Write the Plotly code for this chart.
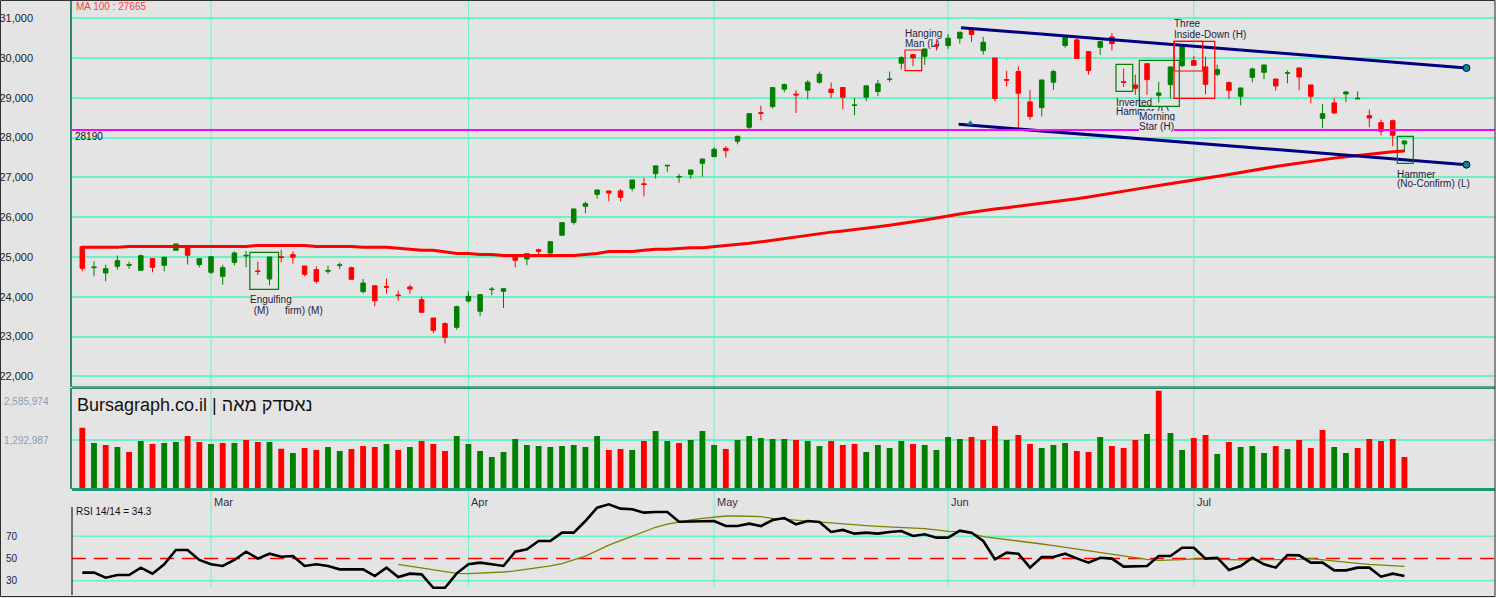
import plotly.graph_objects as go

# ---- data ----
opens = [25260, 24730, 24598, 24765, 24790, 24665, 24958, 24790, 25168, 25260,
         24807, 24615, 24514, 24866, 25025, 24650, 24447, 25005, 25059, 24774,
         24682, 24640, 24785, 24732, 24128, 24279, 24255, 24045, 24246, 23927,
         23466, 23324, 23232, 23894, 23634, 24180, 24137, 25034, 24950, 25184,
         25100, 25545, 25871, 26274, 26575, 26659, 26659, 26726, 26840, 27094,
         27290, 27010, 27078, 27354, 27522, 27732, 27908, 28260, 28625, 28780,
         29218, 29095, 29193, 29394, 29218, 29260, 28810, 29017, 29159, 29460,
         29871, 30088, 30046, 30330, 30315, 30499, 30742, 30188, 30004, 29460,
         29662, 28899, 28754, 29394, 30315, 30457, 30163, 30272, 30532, 29405,
         29324, 29860, 29064, 29332, 29810, 29936, 29777, 29592, 29383, 29039,
         29517, 29643, 29475, 29620, 29752, 29324, 28486, 28872, 29098, 28975,
         28553, 28377, 28427, 27841]
highs = [25285, 24891, 24807, 25034, 24883, 25059, 24960, 25008, 25330, 25265,
         24960, 25010, 24799, 25142, 25151, 24883, 25000, 25184, 25142, 24776,
         24765, 24782, 24858, 24757, 24447, 24280, 24455, 24154, 24304, 24003,
         23470, 23357, 23776, 24137, 24055, 24246, 24205, 25035, 25085, 25210,
         25390, 25865, 26210, 26391, 26685, 26660, 26710, 26940, 26986, 27295,
         27305, 27086, 27190, 27465, 27757, 27782, 28050, 28605, 28805, 29260,
         29360, 29193, 29444, 29662, 29386, 29260, 29000, 29305, 29453, 29662,
         30046, 30090, 30232, 30447, 30600, 30650, 30767, 30532, 30005, 29679,
         29788, 29201, 29450, 29712, 30533, 30490, 30165, 30415, 30632, 29735,
         29584, 29860, 29408, 29778, 30296, 30053, 30036, 29835, 29408, 29250,
         29760, 29828, 29476, 29693, 29753, 29325, 28846, 28997, 29173, 29165,
         28704, 28453, 28453, 27917]
lows = [24640, 24514, 24388, 24682, 24698, 24665, 24615, 24640, 25168, 24807,
        24740, 24573, 24304, 24790, 24740, 24547, 24288, 24866, 24832, 24514,
        24330, 24573, 24698, 24435, 24086, 23760, 24078, 23902, 24078, 23605,
        23089, 22830, 23173, 23852, 23508, 24036, 23718, 24740, 24790, 25017,
        24992, 25545, 25813, 26098, 26467, 26400, 26400, 26651, 26525, 26970,
        27143, 26868, 26962, 27019, 27520, 27497, 27832, 28201, 28436, 28730,
        29142, 28620, 28966, 29352, 28992, 28714, 28564, 28916, 29042, 29402,
        29712, 29795, 29830, 30188, 30230, 30364, 30406, 30088, 28916, 29285,
        28235, 28452, 28530, 29201, 30263, 29985, 29587, 30079, 30188, 29274,
        29073, 29073, 28880, 28989, 29768, 29818, 29089, 29542, 28964, 28813,
        29391, 29467, 29182, 29366, 29190, 28863, 28235, 28610, 28897, 28964,
        28260, 28059, 27782, 27640]
closes = [24715, 24745, 24707, 24908, 24805, 25034, 24740, 24992, 25327, 25042,
          24958, 25008, 24732, 25100, 25040, 24635, 25000, 24990, 24995, 24564,
          24388, 24660, 24800, 24439, 24346, 23902, 24240, 24030, 24195, 23609,
          23156, 22980, 23751, 24011, 24053, 24190, 24204, 24916, 25084, 25142,
          25385, 25863, 26207, 26341, 26684, 26609, 26500, 26936, 26820, 27290,
          27303, 27020, 27187, 27463, 27707, 27673, 28034, 28604, 28612, 29258,
          29335, 29075, 29394, 29595, 29134, 29017, 28820, 29302, 29352, 29470,
          30013, 30004, 30230, 30320, 30499, 30650, 30591, 30398, 28983, 29445,
          29117, 28530, 29450, 29662, 30532, 29988, 29687, 30414, 30364, 29390,
          29240, 29458, 29123, 29777, 30296, 29818, 29341, 29710, 29190, 29249,
          29726, 29827, 29299, 29630, 29525, 29039, 28603, 28620, 29148, 28989,
          28494, 28159, 28059, 27916]

# volume in millions
volume = [1.616, 1.214, 1.162, 1.110, 0.978, 1.267, 1.188, 1.214, 1.240, 1.398,
          1.240, 1.188, 1.214, 1.214, 1.293, 1.240, 1.240, 1.066, 0.952, 1.083,
          1.031, 1.110, 1.005, 1.057, 1.136, 1.110, 1.188, 1.031, 1.110, 1.267,
          1.188, 1.005, 1.398, 1.188, 1.005, 0.847, 0.978, 1.319, 1.162, 1.136,
          1.110, 1.136, 1.162, 1.110, 1.398, 1.031, 1.057, 1.031, 1.267, 1.529,
          1.267, 1.214, 1.293, 1.529, 1.162, 1.057, 1.293, 1.398, 1.345, 1.319,
          1.319, 1.293, 1.267, 1.136, 1.267, 1.162, 1.188, 0.978, 1.162, 1.083,
          1.267, 1.188, 1.162, 1.031, 1.372, 1.319, 1.372, 1.293, 1.660, 1.293,
          1.424, 1.188, 1.083, 1.162, 1.214, 1.005, 0.978, 1.372, 1.136, 1.083,
          1.293, 1.450, 2.586, 1.476, 1.031, 1.345, 1.424, 0.926, 1.240, 1.110,
          1.136, 0.952, 1.136, 1.057, 1.293, 1.083, 1.555, 1.110, 0.952, 1.083,
          1.319, 1.267, 1.319, 0.847]

ma100 = [25245, 25245, 25245, 25245, 25265, 25265, 25265, 25265, 25265, 25265,
         25265, 25265, 25265, 25265, 25265, 25290, 25290, 25290, 25290, 25290,
         25265, 25265, 25265, 25265, 25245, 25245, 25245, 25220, 25195, 25170,
         25170, 25125, 25085, 25085, 25060, 25060, 25035, 25035, 25035, 25035,
         25035, 25035, 25035, 25060, 25085, 25135, 25135, 25135, 25170, 25195,
         25195, 25220, 25235, 25235, 25260, 25285, 25310, 25345, 25380, 25420,
         25460, 25505, 25550, 25595, 25625, 25655, 25685, 25720, 25760, 25800,
         25840, 25885, 25930, 25980, 26035, 26080, 26125, 26170, 26205, 26240,
         26275, 26310, 26345, 26385, 26425, 26465, 26510, 26560, 26610, 26665,
         26710, 26750, 26795, 26840, 26880, 26935, 26980, 27025, 27075, 27125,
         27180, 27230, 27275, 27320, 27365, 27405, 27445, 27485, 27520, 27555,
         27590, 27620, 27645, 27665]

rsi = [37.3, 37.3, 32.8, 35.2, 35.2, 41.8, 36.4, 44.8, 57.6, 57.6,
       48.7, 44.8, 43.3, 48.7, 56.1, 49.9, 54.3, 51.6, 52.2, 43.3,
       44.8, 43.3, 40.3, 40.3, 40.3, 34.3, 41.8, 33.4, 36.4, 35.8,
       23.8, 23.8, 36.7, 44.8, 46.3, 44.8, 43.3, 56.1, 58.2, 65.7,
       65.7, 73.2, 73.2, 83.6, 95.6, 98.6, 94.7, 94.1, 91.1, 91.7,
       91.7, 83.0, 83.0, 83.6, 83.6, 79.1, 79.1, 81.2, 79.1, 84.5,
       86.3, 80.6, 83.6, 82.7, 73.8, 75.6, 72.3, 73.2, 72.3, 73.8,
       74.7, 70.2, 71.7, 68.7, 68.7, 75.0, 73.2, 65.7, 49.3, 55.2,
       54.3, 41.8, 51.3, 51.3, 54.3, 50.1, 46.3, 50.7, 49.9, 42.7,
       42.7, 43.3, 52.2, 52.2, 59.7, 59.7, 49.9, 50.7, 39.7, 43.3,
       50.7, 44.8, 41.8, 53.1, 52.8, 46.3, 46.3, 39.4, 39.4, 41.8,
       41.8, 33.7, 36.4, 34.3]

rsi_ma_start = 27
rsi_ma = [44.8, 43.3, 41.5, 39.7, 38.2, 36.7, 36.4, 36.7, 37.0, 37.9,
          38.9, 40.3, 41.8, 43.3, 45.4, 48.7, 52.2, 57.0, 62.0, 66.0,
          70.0, 74.0, 78.0, 80.9, 83.0, 84.5, 86.0, 87.2, 88.1, 88.1,
          88.1, 87.5, 86.0, 85.1, 84.5, 83.6, 82.7, 81.8, 80.9, 80.0,
          79.4, 78.8, 78.3, 77.7, 77.1, 76.8, 75.6, 74.4, 74.1, 72.3,
          69.6, 68.4, 67.2, 65.7, 64.2, 63.0, 61.5, 60.0, 58.8, 57.3,
          55.8, 54.3, 52.2, 50.7, 49.3, 48.4, 48.4, 49.0, 49.6, 49.6,
          49.3, 49.0, 48.7, 48.7, 48.7, 48.7, 48.7, 49.3, 49.9, 48.7,
          47.5, 46.3, 45.7, 44.8, 44.2, 43.6, 43.0]

month_names = ["Mar", "Apr", "May", "Jun", "Jul"]
month_idx = [11, 33, 54, 74, 95]

price_ticks = [22000, 23000, 24000, 25000, 26000, 27000, 28000, 29000, 30000, 31000]
level_line = 28190
ma_last = 27665
rsi_last = 34.3
vol_max = 2585974
vol_mid = 1292987

# channel lines drawn on the chart (candle index, price)
upper_x = [75.1, 118.3]
upper_y = [30765, 29751]
lower_x = [74.9, 118.3]
lower_y = [28335, 27320]

# pattern boxes: (colour, x0, x1, y0, y1)
patterns = [
    ("g", 14.32, 16.77, 24187, 25118),
    ("r", 70.32, 71.74, 29683, 30203),
    ("g", 88.35, 89.78, 29165, 29844),
    ("g", 90.34, 93.76, 28788, 29944),
    ("r", 93.31, 96.79, 28989, 30422),
    ("r", 93.31, 95.76, 29675, 30422),
    ("g", 112.39, 113.76, 27355, 28034),
]
pattern_labels = [
    ("Engulfing", 14.33, 23919, True),
    (" (M)", 14.45, 23655, False),
    ("firm) (M)", 17.3, 23655, False),
    ("Hanging", 70.32, 30630, False),
    ("Man (L)", 70.32, 30379, False),
    ("Inverted", 88.35, 28896, False),
    ("Hammer (L)", 88.35, 28645, False),
    ("Morning", 90.32, 28519, True),
    ("Star (H)", 90.32, 28268, True),
    ("Three", 93.31, 30857, False),
    ("Inside-Down (H)", 93.31, 30605, False),
    ("Hammer", 112.37, 27086, False),
    ("(No-Confirm) (L)", 112.37, 26835, False),
]

# ---- styling ----
W, H = 1496, 598
L, R = 72, 1
BG = "#e4e4e4"
GRID = "#6af2c6"
GREEN = "#008000"
RED = "#ff0000"
TEAL = "#2e8a6e"
FONT = "Liberation Sans, Arial, sans-serif"


def px(x):
    return (x - L) / (W - L - R)


def py(y):
    return 1 - y / H


idx = list(range(len(closes)))
vol_colors = []
for i in idx:
    if i == 0:
        up = closes[i] >= opens[i]
    else:
        up = closes[i] >= closes[i - 1]
    vol_colors.append(GREEN if up else RED)

fig = go.Figure()

fig.add_trace(go.Candlestick(
    x=idx, open=opens, high=highs, low=lows, close=closes,
    increasing=dict(line=dict(color=GREEN, width=1), fillcolor=GREEN),
    decreasing=dict(line=dict(color=RED, width=1), fillcolor=RED),
    whiskerwidth=0, showlegend=False, hoverinfo="skip"))

fig.add_trace(go.Scatter(x=idx, y=ma100, mode="lines",
                         line=dict(color=RED, width=3), showlegend=False, hoverinfo="skip"))

for xs, ys in [(upper_x, upper_y), (lower_x, lower_y)]:
    fig.add_trace(go.Scatter(x=xs, y=ys, mode="lines",
                             line=dict(color="#000080", width=3), showlegend=False, hoverinfo="skip"))
    fig.add_trace(go.Scatter(x=[xs[1]], y=[ys[1]], mode="markers",
                             marker=dict(size=7, color="#0a8a7a", line=dict(color="#000080", width=1)),
                             showlegend=False, hoverinfo="skip"))
fig.add_trace(go.Scatter(x=[75.9], y=[28360], mode="markers",
                         marker=dict(size=6, symbol="triangle-up", color="#0a8a7a"),
                         showlegend=False, hoverinfo="skip"))

fig.add_trace(go.Bar(x=idx, y=volume, marker=dict(color=vol_colors, line=dict(width=0)),
                     width=0.5, yaxis="y2", showlegend=False, hoverinfo="skip"))

fig.add_trace(go.Scatter(x=idx[rsi_ma_start:], y=rsi_ma, mode="lines", yaxis="y3",
                         line=dict(color="#808000", width=1.3), showlegend=False, hoverinfo="skip"))
fig.add_trace(go.Scatter(x=idx, y=rsi, mode="lines", yaxis="y3",
                         line=dict(color="#000000", width=2.6), showlegend=False, hoverinfo="skip"))

shapes = []
# month grid lines
for m in month_idx:
    shapes.append(dict(type="line", xref="x", yref="paper", x0=m, x1=m, y0=py(587), y1=1,
                       line=dict(color=GRID, width=1), layer="below"))
# rsi levels
for lv in (30, 70):
    shapes.append(dict(type="line", xref="paper", yref="y3", x0=0, x1=1, y0=lv, y1=lv,
                       line=dict(color=GRID, width=1.5), layer="below"))
shapes.append(dict(type="line", xref="paper", yref="y3", x0=0, x1=1, y0=50, y1=50,
                   line=dict(color=RED, width=1.5, dash="14px,8px"), layer="below"))
# horizontal level
shapes.append(dict(type="line", xref="paper", yref="y", x0=0, x1=1, y0=level_line, y1=level_line,
                   line=dict(color="#ff00ff", width=2)))
# panel borders
shapes.append(dict(type="line", xref="paper", yref="paper", x0=0, x1=1, y0=py(387), y1=py(387),
                   line=dict(color=TEAL, width=1.5)))
shapes.append(dict(type="line", xref="paper", yref="paper", x0=0, x1=1, y0=py(388.5), y1=py(388.5),
                   line=dict(color=TEAL, width=1)))
shapes.append(dict(type="line", xref="paper", yref="paper", x0=0, x1=1, y0=py(489.5), y1=py(489.5),
                   line=dict(color="#1a9a74", width=3)))
shapes.append(dict(type="line", xref="paper", yref="paper", x0=0, x1=0, y0=py(507), y1=py(595),
                   line=dict(color="#000000", width=1)))
# outer frame
shapes.append(dict(type="rect", xref="paper", yref="paper", x0=px(0.5), x1=px(1495), y0=py(596.5), y1=py(0.5),
                   line=dict(color="#303030", width=1)))
# pattern boxes
for col, x0, x1, y0, y1 in patterns:
    shapes.append(dict(type="rect", xref="x", yref="y", x0=x0, x1=x1, y0=y0, y1=y1,
                       line=dict(color=GREEN if col == "g" else RED, width=1.2)))

ann = []
for text, x, y, bg in pattern_labels:
    ann.append(dict(text=text, x=x, y=y, xref="x", yref="y", xanchor="left", yanchor="middle",
                    showarrow=False, font=dict(size=10, color="#1e1e3c", family=FONT),
                    bgcolor=BG if bg else None, borderpad=0, borderwidth=0))
ann.append(dict(text=f"MA 100 : {ma_last}", x=px(74), y=py(7), xref="paper", yref="paper",
                xanchor="left", yanchor="middle", showarrow=False,
                font=dict(size=10, color="#ff3c3c", family=FONT)))
ann.append(dict(text=str(level_line), x=px(73), y=py(137), xref="paper", yref="paper",
                xanchor="left", yanchor="middle", showarrow=False,
                font=dict(size=10, color="#101010", family=FONT)))
ann.append(dict(text="Bursagraph.co.il | נאסדק מאה", x=px(75), y=py(405), xref="paper", yref="paper",
                xanchor="left", yanchor="middle", showarrow=False,
                font=dict(size=18, color="#111111", family=FONT)))
for val, ypix in [(vol_max, 401), (vol_mid, 440)]:
    ann.append(dict(text=f"{val:,}", x=px(2), y=py(ypix), xref="paper", yref="paper",
                    xanchor="left", yanchor="middle", showarrow=False,
                    font=dict(size=10, color="#8c9cb4", family=FONT)))
for name, m in zip(month_names, month_idx):
    ann.append(dict(text=name, x=m + 0.08, y=py(502), xref="x", yref="paper",
                    xanchor="left", yanchor="middle", showarrow=False,
                    font=dict(size=11, color="#30304a", family=FONT)))
ann.append(dict(text=f"RSI 14/14 = {rsi_last}", x=px(74), y=py(511), xref="paper", yref="paper",
                xanchor="left", yanchor="middle", showarrow=False,
                font=dict(size=10, color="#101010", family=FONT)))
for lv in (70, 50, 30):
    ann.append(dict(text=str(lv), x=px(4), y=lv, xref="paper", yref="y3",
                    xanchor="left", yanchor="middle", showarrow=False,
                    font=dict(size=10, color="#20204a", family=FONT)))

fig.update_layout(
    width=W, height=H,
    margin=dict(l=L, r=R, t=0, b=0, pad=0, autoexpand=False),
    paper_bgcolor=BG, plot_bgcolor=BG,
    font=dict(family=FONT),
    hovermode=False,
    showlegend=False,
    boxgap=0.45,
    xaxis=dict(range=[-0.88, 120.74], showgrid=False, zeroline=False, showticklabels=False,
               ticks="", showline=False, automargin=False, rangeslider=dict(visible=False)),
    yaxis=dict(domain=[py(387), 1], range=[21731.5, 31460], tickvals=price_ticks,
               tickformat=",", showgrid=True, gridcolor=GRID, gridwidth=1.5, zeroline=False,
               showline=True, linecolor=TEAL, linewidth=1.5, ticks="", ticklabelstandoff=35,
               automargin=False, tickfont=dict(size=11, color="#1e1e1e", family=FONT)),
    yaxis2=dict(domain=[py(489.3), py(388)], range=[0, 2.657], tickvals=[vol_mid / 1e6],
                showticklabels=False, showgrid=True, gridcolor=GRID, gridwidth=1.5,
                zeroline=False, showline=True, linecolor=TEAL, linewidth=1.5, anchor="x",
                automargin=False),
    yaxis3=dict(domain=[0, py(490)], range=[14.6, 111.4], showgrid=False, showticklabels=False,
                zeroline=False, showline=False, anchor="x", automargin=False),
    shapes=shapes,
    annotations=ann,
)

# the page's default body margin would shift the chart by 8px
fig.write_html("out.html", config={"displayModeBar": False},
               post_script="document.body.style.margin='0';")
